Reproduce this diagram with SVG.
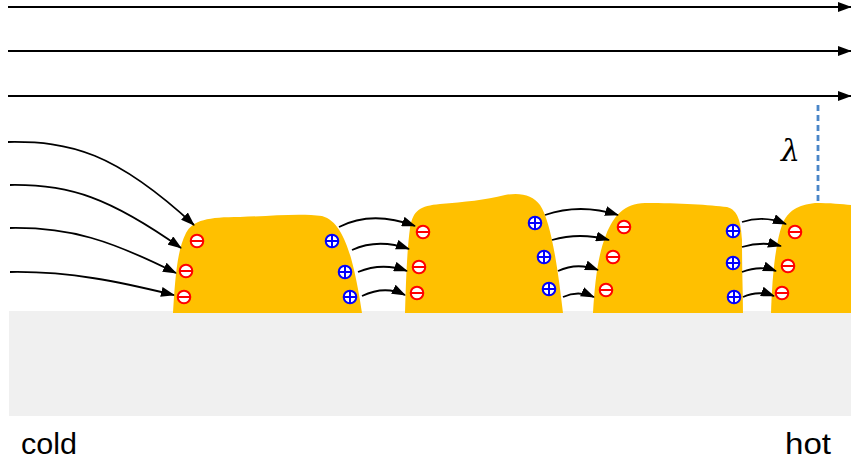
<svg xmlns="http://www.w3.org/2000/svg" width="851" height="464" viewBox="0 0 851 464">
  <defs>
    <marker id="head" markerUnits="userSpaceOnUse" markerWidth="14" markerHeight="10" refX="13" refY="5" orient="auto">
      <path d="M0,0 L14,5 L0,10 Z" fill="#000"/>
    </marker>
    <g id="minus">
      <circle r="6.3" fill="#fff" stroke="#ff0000" stroke-width="2"/>
      <line x1="-6" y1="0" x2="6" y2="0" stroke="#ff0000" stroke-width="2"/>
    </g>
    <g id="plus">
      <circle r="6.3" fill="#fff" stroke="#0000ff" stroke-width="2"/>
      <line x1="-6" y1="0" x2="6" y2="0" stroke="#0000ff" stroke-width="2"/>
      <line x1="0" y1="-6" x2="0" y2="6" stroke="#0000ff" stroke-width="2"/>
    </g>
  </defs>
  <style>
    .island { fill: #ffc000; }
    .flow { fill: none; stroke: #000; stroke-width: 1.8; marker-end: url(#head); }
    .label { font-family: "Liberation Sans", Arial, sans-serif; font-size: 29px; fill: #000; }
  </style>

  <rect width="851" height="464" fill="#fff"/>

  <!-- substrate -->
  <rect id="substrate" x="9" y="311" width="842" height="105" fill="#f0f0f0"/>

  <!-- islands -->
  <g id="island1">
    <path class="island" d="M173,313 C175,280 177,250 186,233 C193,220 208,217 240,217 C270,216 300,213 322,216 C337,220 345,238 351,258 C357,280 360,300 362,313 Z"/>
    <use href="#minus" x="197" y="241"/>
    <use href="#minus" x="186" y="271"/>
    <use href="#minus" x="184" y="297"/>
    <use href="#plus" x="332" y="241"/>
    <use href="#plus" x="345" y="272"/>
    <use href="#plus" x="350" y="297"/>
  </g>
  <g id="island2">
    <path class="island" d="M405,313 C406,280 407,250 410,228 C413,210 420,206 440,204 C465,202 485,200 505,195 C520,192 533,195 540,205 C550,220 557,260 563,313 Z"/>
    <use href="#minus" x="423" y="232"/>
    <use href="#minus" x="419" y="267"/>
    <use href="#minus" x="417" y="293"/>
    <use href="#plus" x="535" y="223"/>
    <use href="#plus" x="544" y="257"/>
    <use href="#plus" x="549" y="289"/>
  </g>
  <g id="island3">
    <path class="island" d="M593,313 C595,280 598,255 606,235 C614,215 624,204 645,203 C680,203 710,205 727,207 C738,210 741,222 742,240 C742,270 743,295 743,313 Z"/>
    <use href="#minus" x="624" y="227"/>
    <use href="#minus" x="613" y="257"/>
    <use href="#minus" x="606" y="290"/>
    <use href="#plus" x="733" y="231"/>
    <use href="#plus" x="733" y="263"/>
    <use href="#plus" x="734" y="297"/>
  </g>
  <g id="island4">
    <path class="island" d="M771,313 C772,280 775,245 782,225 C788,210 798,205 815,203 C830,203 842,204 851,205 L851,313 Z"/>
    <use href="#minus" x="795" y="232"/>
    <use href="#minus" x="788" y="266"/>
    <use href="#minus" x="782" y="293"/>
  </g>

  <!-- connectors -->
  <g id="connectors">
    <!-- uniform field lines -->
    <line class="flow" x1="8" y1="7" x2="851" y2="7" stroke-width="2"/>
    <line class="flow" x1="8" y1="51" x2="851" y2="51" stroke-width="2"/>
    <line class="flow" x1="8" y1="96" x2="851" y2="96" stroke-width="2"/>
    <!-- field bending into the first island -->
    <path class="flow" d="M8,142 C70,141 115,152 194,225"/>
    <path class="flow" d="M10,185 C70,184 110,198 181,248"/>
    <path class="flow" d="M10,228 C70,227 110,240 176,273"/>
    <path class="flow" d="M10,272 C70,271 120,282 174,295"/>
    <!-- island 1 to island 2 -->
    <path class="flow" d="M339,227 Q372,210 415,226"/>
    <path class="flow" d="M352,250 Q378,238 409,249"/>
    <path class="flow" d="M358,272 Q382,262 407,271"/>
    <path class="flow" d="M362,296 Q385,285 405,295"/>
    <!-- island 2 to island 3 -->
    <path class="flow" d="M545,215 Q580,203 618,215"/>
    <path class="flow" d="M552,240 Q580,232 609,240"/>
    <path class="flow" d="M558,271 Q577,262 598,270"/>
    <path class="flow" d="M563,297 Q578,290 594,297"/>
    <!-- island 3 to island 4 -->
    <path class="flow" d="M742,222 Q764,215 786,224"/>
    <path class="flow" d="M742,247 Q762,241 781,246"/>
    <path class="flow" d="M742,272 Q760,265 776,271"/>
    <path class="flow" d="M743,297 Q758,290 774,296"/>
  </g>

  <!-- screening length -->
  <line id="lambda-line" x1="818" y1="105" x2="818" y2="204" stroke="#4a86c8" stroke-width="2.8" stroke-dasharray="6,4"/>
  <text id="lambda" x="790.5" y="161" text-anchor="middle" font-family="'DejaVu Serif', 'Liberation Serif', serif" font-style="italic" font-size="30">λ</text>

  <!-- ends of the temperature gradient -->
  <text class="label" x="21" y="454" textLength="56" lengthAdjust="spacingAndGlyphs">cold</text>
  <text class="label" x="785" y="454" textLength="46" lengthAdjust="spacingAndGlyphs">hot</text>
</svg>
